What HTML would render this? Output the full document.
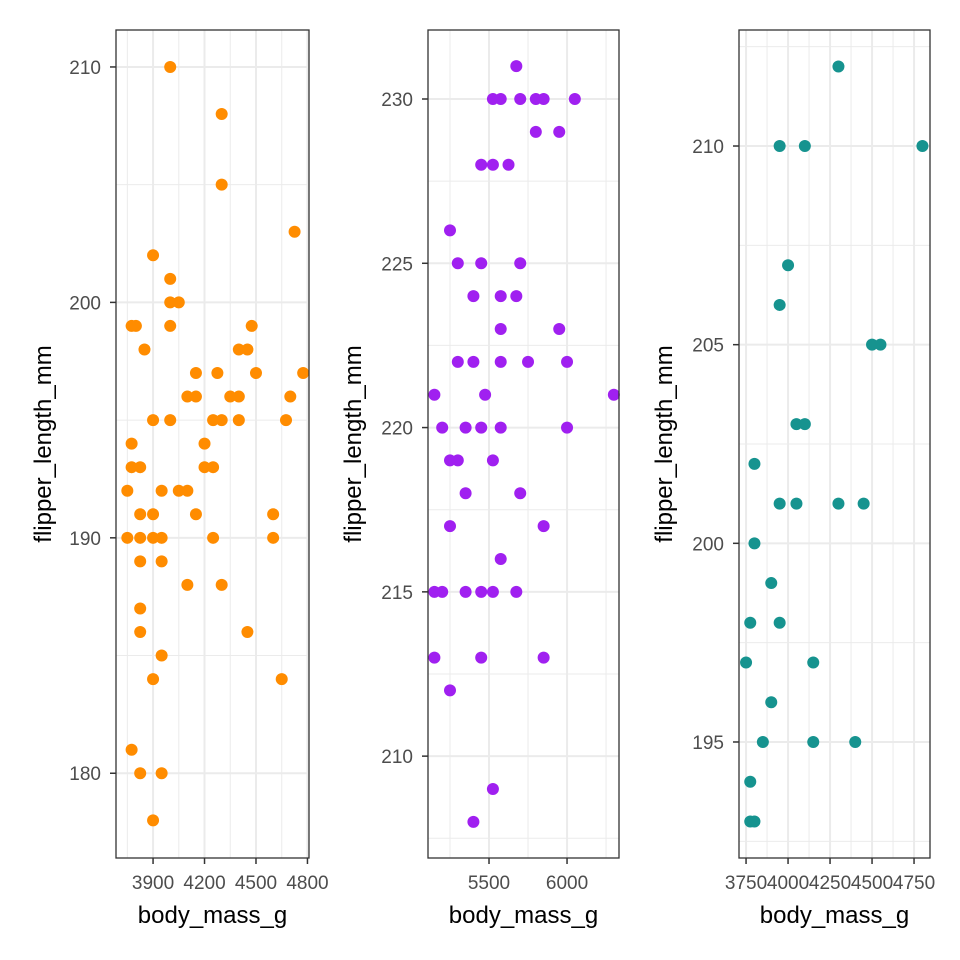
<!DOCTYPE html>
<html><head><meta charset="utf-8"><style>
html,body{margin:0;padding:0;background:#fff;}
svg{display:block;font-family:"Liberation Sans",sans-serif;}
</style></head><body>
<svg id="chart" width="960" height="960" viewBox="0 0 960 960" xmlns="http://www.w3.org/2000/svg"></svg>
<script>
// Panel 1 (orange)
const p1Mass = [4000,4300,4300,4725,3900,4000,4000,4050,3775,3800,4000,4475,3850,4400,4450,4150,4275,4500,4775,4100,4150,4350,4400,4700,3900,4000,4250,4300,4400,4675,3775,4200,3775,3825,4200,4250,3750,3950,4050,4100,3825,3900,4150,4600,3750,3825,3900,3950,4250,4600,3825,3950,4100,4300,3825,3825,4450,3950,3900,4650,3775,3825,3950,3900];
const p1Flip = [210,208,205,203,202,201,200,200,199,199,199,199,198,198,198,197,197,197,197,196,196,196,196,196,195,195,195,195,195,195,194,194,193,193,193,193,192,192,192,192,191,191,191,191,190,190,190,190,190,190,189,189,188,188,187,186,186,185,184,184,181,180,180,178];
const p1XTicks = [3900,4200,4500,4800];
const p1YTicks = [180,190,200,210];
// Panel 2 (purple)
const p2Mass = [5675,5525,5575,5700,5800,5850,6050,5800,5950,5450,5525,5625,5250,5300,5450,5700,5400,5575,5675,5575,5950,5300,5400,5575,5750,6000,5150,5475,6300,5200,5350,5450,5575,6000,5250,5300,5525,5350,5700,5250,5850,5575,5150,5200,5350,5450,5525,5675,5150,5450,5850,5250,5525,5400];
const p2Flip = [231,230,230,230,230,230,230,229,229,228,228,228,226,225,225,225,224,224,224,223,223,222,222,222,222,222,221,221,221,220,220,220,220,220,219,219,219,218,218,217,217,216,215,215,215,215,215,215,213,213,213,212,209,208];
const p2XTicks = [5500,6000];
const p2YTicks = [210,215,220,225,230];
// Panel 3 (teal)
const p3Mass = [4300,3950,4100,4800,4000,3950,4500,4550,4050,4100,3800,3950,4050,4300,4450,3800,3900,3775,3950,3750,4150,3900,3850,4150,4400,3775,3775,3800];
const p3Flip = [212,210,210,210,207,206,205,205,203,203,202,201,201,201,201,200,199,198,198,197,197,196,195,195,195,194,193,193];
const p3XTicks = [3750,4000,4250,4500,4750];
const p3YTicks = [195,200,205,210];

const svg = document.getElementById('chart');
const NS = 'http://www.w3.org/2000/svg';
function mk(tag, attrs, parent){const e=document.createElementNS(NS,tag);for(const k in attrs)e.setAttribute(k,attrs[k]);(parent||svg).appendChild(e);return e;}

const panels = [
 {id:'panel-1', x0:116,x1:309, xd:[3684,4809], yd:[176.4,211.57], mass:p1Mass, flip:p1Flip, xt:p1XTicks, yt:p1YTicks, color:'#FF8C00', ytitle:42},
 {id:'panel-2', x0:428,x1:619, xd:[5109,6333], yd:[206.9,232.1], mass:p2Mass, flip:p2Flip, xt:p2XTicks, yt:p2YTicks, color:'#A020F0', ytitle:352},
 {id:'panel-3', x0:739,x1:930, xd:[3708,4845], yd:[192.08,212.92], mass:p3Mass, flip:p3Flip, xt:p3XTicks, yt:p3YTicks, color:'#16938F', ytitle:663}
];
const Y0=30, Y1=858;
panels.forEach(p=>{
 const g = mk('g',{});
 
 
 const sx = v => p.x0 + (v-p.xd[0])/(p.xd[1]-p.xd[0])*(p.x1-p.x0);
 const sy = v => Y1 - (v-p.yd[0])/(p.yd[1]-p.yd[0])*(Y1-Y0);
 const xs=p.xt[1]-p.xt[0], ys=p.yt[1]-p.yt[0];
 for(let v=p.xt[0]-xs*1.5; v<p.xd[1]; v+=xs){ if(v>p.xd[0]){const x=sx(v);const l=mk('line',{x1:x,x2:x,y1:Y0,y2:Y1,stroke:'#ebebeb','stroke-width':1},g);}}
 for(let v=p.yt[0]-ys*1.5; v<p.yd[1]; v+=ys){ if(v>p.yd[0]){const y=sy(v);const l=mk('line',{x1:p.x0,x2:p.x1,y1:y,y2:y,stroke:'#ebebeb','stroke-width':1},g);}}
 p.xt.forEach(v=>{const x=sx(v);
  const l=mk('line',{x1:x,x2:x,y1:Y0,y2:Y1,stroke:'#ebebeb','stroke-width':2},g);
  const t=mk('line',{x1:x,x2:x,y1:Y1,y2:Y1+6,stroke:'#333','stroke-width':1.5},g);
  const tx=mk('text',{x:x,y:Y1+31,'text-anchor':'middle','font-size':19,fill:'#4d4d4d'},g);tx.textContent=v;});
 p.yt.forEach(v=>{const y=sy(v);
  const l=mk('line',{x1:p.x0,x2:p.x1,y1:y,y2:y,stroke:'#ebebeb','stroke-width':2},g);
  const t=mk('line',{x1:p.x0-6,x2:p.x0,y1:y,y2:y,stroke:'#333','stroke-width':1.5},g);
  const tx=mk('text',{x:p.x0-15,y:y+7,'text-anchor':'end','font-size':19,fill:'#4d4d4d'},g);tx.textContent=v;});
 p.mass.forEach((m,i)=>{const c=mk('circle',{cx:sx(m),cy:sy(p.flip[i]),r:6,fill:p.color},g);
  
  });
 const b=mk('rect',{x:p.x0,y:Y0,width:p.x1-p.x0,height:Y1-Y0,fill:'none',stroke:'#333','stroke-width':1.3},g);
 
 const xt=mk('text',{x:(p.x0+p.x1)/2,y:923,'text-anchor':'middle','font-size':24,fill:'#000'},g);xt.textContent='body_mass_g';
 
 const yt=mk('text',{x:0,y:0,'text-anchor':'middle','font-size':24,fill:'#000',transform:`translate(${p.ytitle+9},${(Y0+Y1)/2}) rotate(-90)`},g);yt.textContent='flipper_length_mm';
 
});
</script>
</body></html>
